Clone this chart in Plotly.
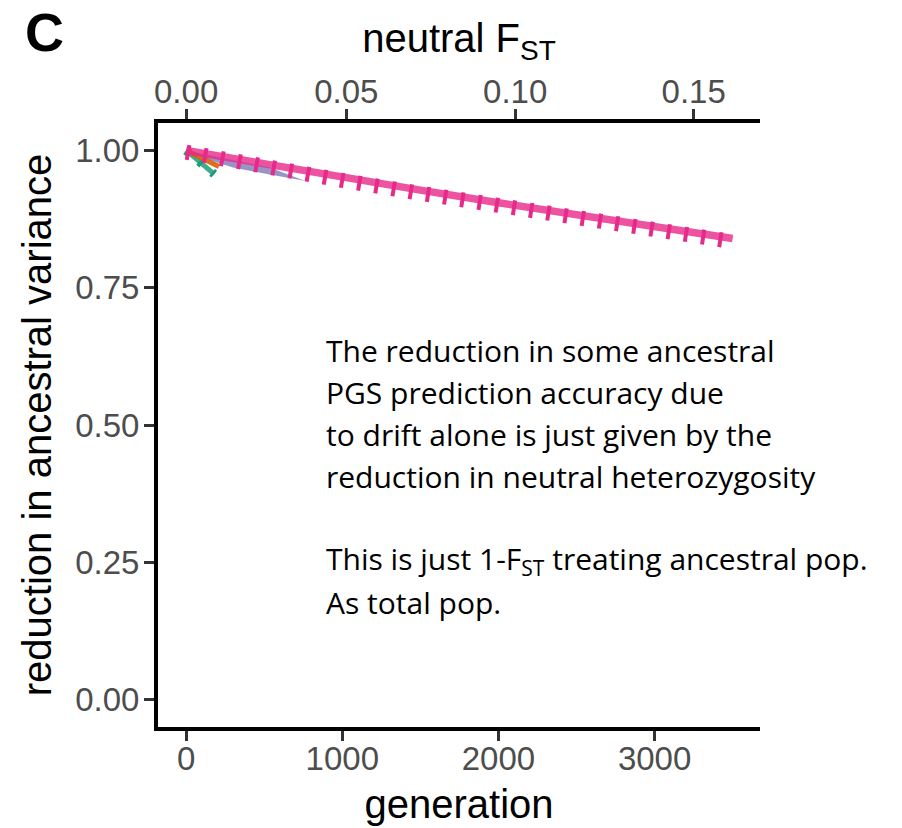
import math
import plotly.graph_objects as go

# ---- data ----
GEN_THEORY = [0, 500, 1000, 1500, 2000, 2500, 3000, 3500]
VAL_THEORY = [1.0, 0.9753, 0.9512, 0.9277, 0.9048, 0.8825, 0.8607, 0.8395]

GEN_SIM = [0, 500, 1000, 1500, 2000, 2500, 3000, 3500]
VAL_SIM = [0.997, 0.9695, 0.9455, 0.922, 0.899, 0.877, 0.855, 0.834]

GEN_GREEN = [0, 60, 120, 180]
VAL_GREEN = [1.0, 0.985, 0.971, 0.957]

GEN_ORANGE = [0, 100, 210]
VAL_ORANGE = [1.0, 0.986, 0.971]

# purple spread of replicate trajectories (upper edge then lower edge)
GEN_PURPLE = [0, 300, 535, 760, 535, 300, 100, 0]
VAL_PURPLE = [1.0, 0.982, 0.969, 0.945, 0.956, 0.969, 0.987, 1.0]

FST_TICKS = [0.00, 0.05, 0.10, 0.15]
FST_LABELS = ["0.00", "0.05", "0.10", "0.15"]
TWO_N = 20000  # generation <-> neutral FST mapping: FST = 1 - exp(-t / 2N)

GEN_TICKS = [0, 1000, 2000, 3000]
Y_TICKS = [0.0, 0.25, 0.5, 0.75, 1.0]
Y_LABELS = ["0.00", "0.25", "0.50", "0.75", "1.00"]

NOTE_LINES = [
    "The reduction in some ancestral",
    "PGS prediction accuracy due",
    "to drift alone is just given by the",
    "reduction in neutral heterozygosity",
    "",
    "This is just 1-F<sub>ST</sub> treating ancestral pop.",
    "As total pop.",
]

PINK = "#E7298A"
XR = [-180, 3675]
YR = [-0.05, 1.05]

fig = go.Figure()

fig.add_trace(go.Scatter(x=GEN_PURPLE, y=VAL_PURPLE, mode="lines", fill="toself",
                         fillcolor="rgba(117,112,179,0.75)", line=dict(width=0),
                         hoverinfo="skip", showlegend=False))
fig.add_trace(go.Scatter(x=GEN_GREEN, y=VAL_GREEN, mode="lines",
                         line=dict(color="rgba(27,158,119,0.85)", width=5),
                         showlegend=False))
fig.add_trace(go.Scatter(x=GEN_GREEN, y=VAL_GREEN, mode="lines",
                         line=dict(color="#1B9E77", width=9, dash="4px,13px"),
                         showlegend=False))
fig.add_trace(go.Scatter(x=GEN_ORANGE, y=VAL_ORANGE, mode="lines",
                         line=dict(color="rgba(217,95,2,0.9)", width=5),
                         showlegend=False))
fig.add_trace(go.Scatter(x=GEN_THEORY, y=VAL_THEORY, mode="lines",
                         line=dict(color="rgba(231,41,138,0.8)", width=7.5),
                         showlegend=False))
fig.add_trace(go.Scatter(x=GEN_SIM, y=VAL_SIM, mode="lines",
                         line=dict(color=PINK, width=15, dash="4px,13.4px"),
                         showlegend=False))
# dummy trace on the secondary (top) axis
fig.add_trace(go.Scatter(x=[XR[0]], y=[YR[0]], xaxis="x2", mode="markers",
                         marker=dict(opacity=0), hoverinfo="skip", showlegend=False))

fst_pos = [-TWO_N * math.log(1 - f) for f in FST_TICKS]

tickfont = dict(family="Liberation Sans, Arial, sans-serif", size=33, color="#4D4D4D")
titlefont = dict(family="Liberation Sans, Arial, sans-serif", size=40, color="black")
axis_common = dict(showgrid=False, zeroline=False, showline=True, linecolor="black",
                   linewidth=4, ticks="outside", ticklen=10, tickwidth=3,
                   tickcolor="#333333", tickfont=tickfont, automargin=False)

fig.update_layout(
    width=902, height=828,
    margin=dict(l=158, r=142, t=123, b=101),
    plot_bgcolor="white", paper_bgcolor="white",
    xaxis=dict(range=XR, tickvals=GEN_TICKS, ticktext=[str(g) for g in GEN_TICKS],
               ticklabelstandoff=-11,
               title=dict(text="generation", font=titlefont, standoff=15), **axis_common),
    xaxis2=dict(range=XR, overlaying="x", side="top", tickvals=fst_pos, ticktext=FST_LABELS,
                ticklabelstandoff=-7,
                title=dict(text="neutral F<sub>ST</sub>", font=titlefont, standoff=9),
                **axis_common),
    yaxis=dict(range=YR, tickvals=Y_TICKS, ticktext=Y_LABELS, ticklabelstandoff=-2,
               title=dict(text="reduction in ancestral variance", font=titlefont, standoff=12),
               **axis_common),
)

# note text, one annotation per line
note_x = 880
note_y0 = 0.636
note_dy = 0.0764
for i, line in enumerate(NOTE_LINES):
    if not line:
        continue
    fig.add_annotation(x=note_x, y=note_y0 - i * note_dy, xref="x", yref="y",
                       text=line, showarrow=False, xanchor="left", yanchor="middle",
                       font=dict(family="Open Sans, Noto Sans, sans-serif", size=30, color="black"))

fig.add_annotation(x=-0.225, y=1.151, xref="paper", yref="paper", text="<b>C</b>",
                   showarrow=False, xanchor="left", yanchor="middle",
                   font=dict(family="Liberation Sans, Arial, sans-serif", size=54, color="black"))

fig.write_html("out.html")
